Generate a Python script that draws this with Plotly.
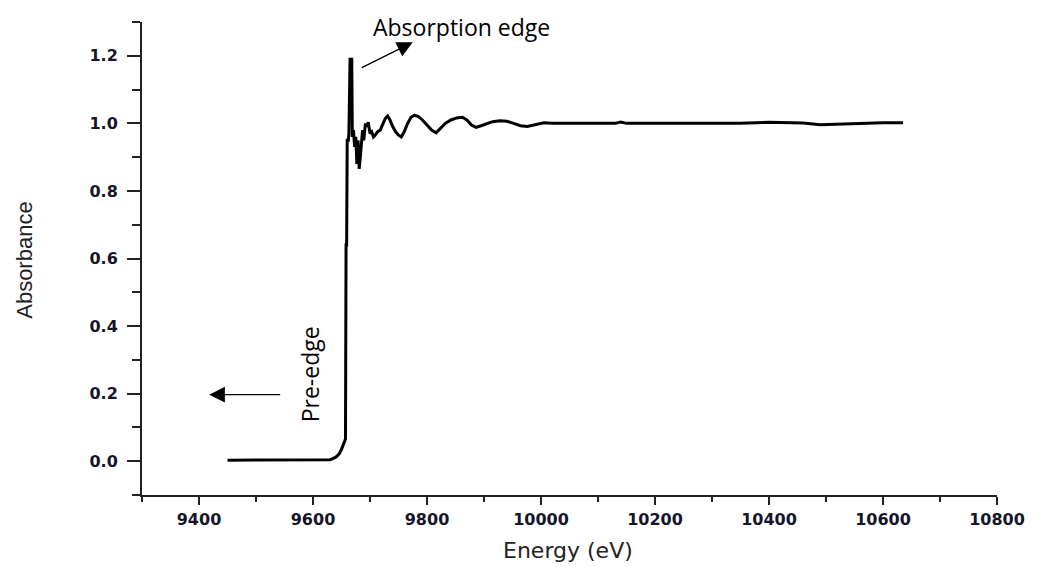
import plotly.graph_objects as go

energy = [9450, 9500, 9550, 9600, 9630, 9640, 9646, 9650, 9653, 9655, 9657,
          9658, 9659, 9660, 9662, 9663, 9665, 9668, 9669, 9671, 9673, 9675,
          9677, 9679, 9681, 9683, 9685, 9687, 9689, 9692, 9694, 9697, 9700,
          9703, 9706, 9709, 9713, 9718, 9723, 9727, 9731, 9735, 9740, 9745,
          9750, 9755, 9760, 9766, 9772, 9778, 9785, 9792, 9800, 9808, 9816,
          9824, 9832, 9842, 9852, 9862, 9870, 9878, 9886, 9895, 9905, 9915,
          9928, 9940, 9952, 9964, 9976, 9990, 10005, 10020, 10060, 10100,
          10130, 10140, 10150, 10250, 10350, 10400, 10460, 10490, 10510,
          10530, 10600, 10635]
absorbance = [0.003, 0.003, 0.003, 0.003, 0.004, 0.012, 0.022, 0.035, 0.05, 0.06, 0.066,
              0.64, 0.64, 0.95, 0.95, 0.97, 1.19, 1.19, 0.96, 0.98, 0.93, 0.96,
              0.88, 0.95, 0.865, 0.90, 0.94, 0.98, 0.95, 1.0, 0.99, 1.003, 0.97,
              0.975, 0.96, 0.965, 0.975, 0.98, 1.0, 1.015, 1.022, 1.01, 0.99, 0.975,
              0.965, 0.96, 0.975, 1.0, 1.018, 1.024, 1.02, 1.01, 0.995, 0.98, 0.972,
              0.985, 1.0, 1.01, 1.016, 1.018, 1.01, 0.995, 0.988, 0.993, 1.0, 1.005,
              1.008, 1.006, 1.0, 0.993, 0.991, 0.996, 1.002, 1.0, 0.999, 1.0,
              1.0, 1.004, 1.0, 0.999, 1.0, 1.003, 1.001, 0.996, 0.997,
              1.0, 1.002, 1.002]

x_ticks = [9400, 9600, 9800, 10000, 10200, 10400, 10600, 10800]
y_ticks = [0.0, 0.2, 0.4, 0.6, 0.8, 1.0, 1.2]

fig = go.Figure()
fig.add_trace(go.Scatter(x=energy, y=absorbance, mode="lines",
                         line=dict(color="black", width=3), showlegend=False))

tickfont = dict(family="DejaVu Sans", size=16, color="#15152a", weight="bold")
axcol = "#222"

fig.update_xaxes(range=[9300, 10800], tickvals=x_ticks,
                 ticktext=[str(v) for v in x_ticks],
                 showline=True, linecolor=axcol, linewidth=2,
                 ticks="outside", ticklen=8, tickwidth=2, tickcolor=axcol,
                 ticklabelstandoff=1,
                 minor=dict(ticks="outside", ticklen=5, tickwidth=2, tickcolor=axcol,
                            tick0=9300, dtick=100),
                 showgrid=False, zeroline=False, tickfont=tickfont)
fig.update_yaxes(range=[-0.1, 1.3], tickvals=y_ticks,
                 ticktext=[f"{v:.1f}" for v in y_ticks],
                 showline=True, linecolor=axcol, linewidth=2,
                 ticks="outside", ticklen=13, tickwidth=2, tickcolor=axcol,
                 ticklabelstandoff=6,
                 minor=dict(ticks="outside", ticklen=8, tickwidth=2, tickcolor=axcol,
                            tick0=-0.1, dtick=0.1),
                 showgrid=False, zeroline=False, tickfont=tickfont)

fig.add_annotation(text="Absorbance", xref="paper", yref="paper",
                   x=-0.137, y=0.497, xanchor="center", yanchor="middle",
                   textangle=-90, showarrow=False,
                   font=dict(family="Liberation Sans, Arial", size=22, color="#222"))
fig.add_annotation(text="Energy (eV)", xref="paper", yref="paper",
                   x=0.498, y=-0.118, xanchor="center", yanchor="middle",
                   showarrow=False,
                   font=dict(family="DejaVu Sans", size=22, color="#222"))

fig.add_annotation(text="Absorption edge", xref="paper", yref="paper",
                   x=0.374, y=0.99, xanchor="center", yanchor="middle",
                   showarrow=False,
                   font=dict(family="Open Sans, Noto Sans", size=23, color="black"))
fig.add_annotation(x=9775, y=1.24, ax=9683, ay=1.163, xref="x", yref="y",
                   axref="x", ayref="y", text="", showarrow=True,
                   arrowhead=2, arrowsize=2.4, arrowwidth=1.3, arrowcolor="black")
fig.add_annotation(x=9418, y=0.197, ax=9545, ay=0.197, xref="x", yref="y",
                   axref="x", ayref="y", text="", showarrow=True,
                   arrowhead=2, arrowsize=2.4, arrowwidth=1.3, arrowcolor="black")
fig.add_annotation(text="Pre-edge", x=9594, y=0.256, xref="x", yref="y",
                   xanchor="center", yanchor="middle", textangle=-90,
                   showarrow=False,
                   font=dict(family="Open Sans, Noto Sans", size=23, color="black"))

fig.update_layout(width=1029, height=559,
                  margin=dict(l=134, r=34, t=14, b=72),
                  plot_bgcolor="white", paper_bgcolor="white")

fig.write_html("out.html")
